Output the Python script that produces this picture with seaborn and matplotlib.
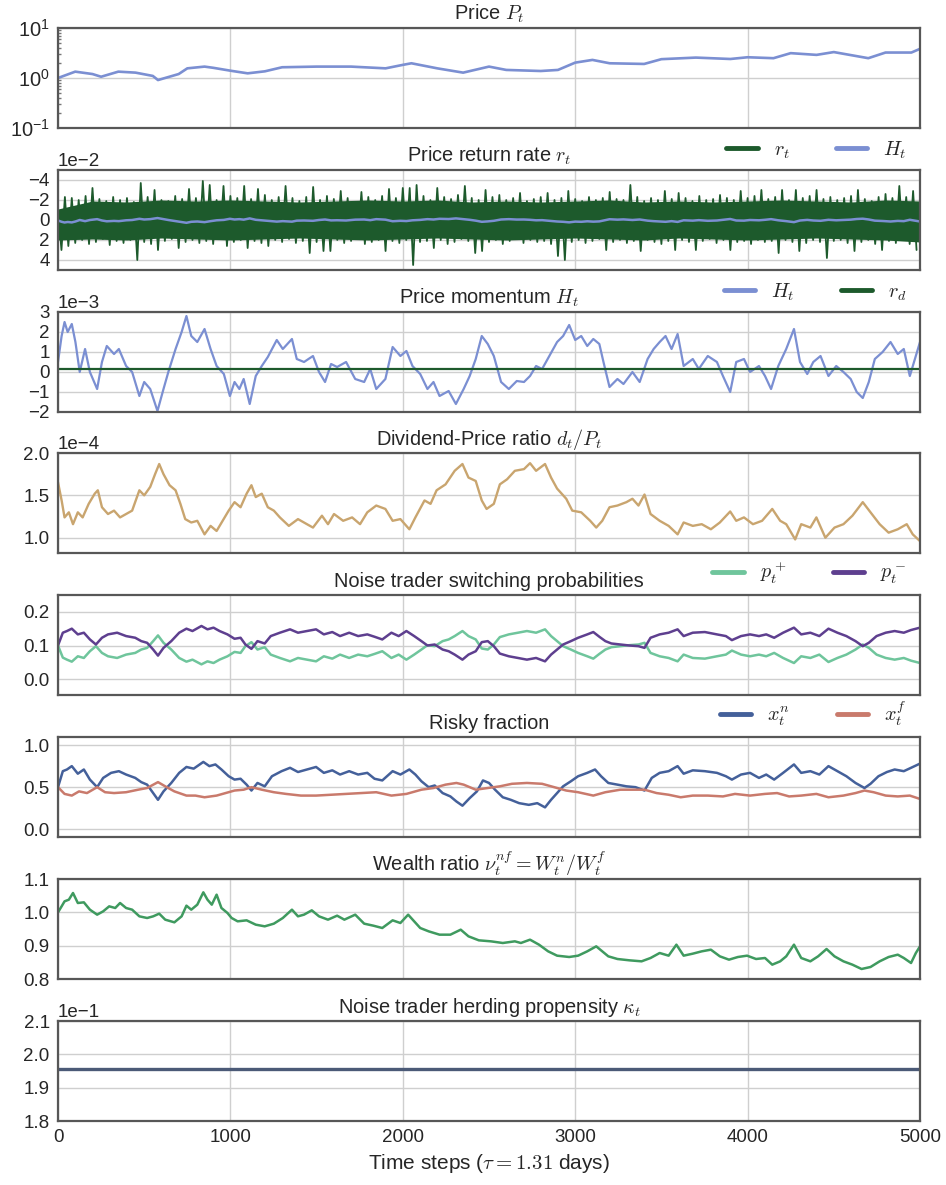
import numpy as np
import matplotlib
matplotlib.use("Agg")
import matplotlib.pyplot as plt
import seaborn as sns
from matplotlib.ticker import FixedLocator, LogLocator, NullFormatter, FormatStrFormatter

# ---------------- data ----------------
price_t = [0, 100, 200, 250, 350, 450, 550, 580, 700, 750, 850, 900, 1000, 1100, 1200, 1300, 1500,
           1700, 1900, 2000, 2050, 2200, 2350, 2500, 2600, 2800, 2900, 3000, 3100, 3200, 3400, 3500,
           3700, 3900, 4000, 4150, 4250, 4400, 4500, 4700, 4800, 4950, 5000]
price = [1.0, 1.34, 1.2, 1.06, 1.34, 1.28, 1.1, 0.91, 1.2, 1.56, 1.69, 1.6, 1.4, 1.24, 1.36, 1.64, 1.69,
         1.69, 1.56, 1.83, 1.97, 1.56, 1.28, 1.69, 1.45, 1.38, 1.45, 2.03, 2.3, 1.97, 1.91, 2.38,
         2.56, 2.4, 2.6, 2.49, 3.14, 2.9, 3.3, 2.49, 3.23, 3.23, 3.83]

# return rate (units of 1e-2): extremes of the noisy series ...
r_neg_t = list(range(0, 5000, 40))
r_neg = [-1.2, -2.3, -2.2, -2.0, -2.4, -3.2, -2.1, -1.9, -2.3, -2.0,
         -2.2, -1.8, -3.7, -2.3, -3.0, -2.0, -1.9, -2.4, -2.1, -3.1,
         -2.2, -3.9, -3.5, -2.0, -3.4, -2.4, -2.2, -3.4, -2.1, -3.1,
         -2.5, -2.0, -2.3, -3.4, -2.2, -1.9, -2.3, -3.3, -2.0, -2.4,
         -2.1, -2.9, -2.2, -1.8, -2.8, -2.3, -2.0, -2.4, -3.1, -2.2,
         -3.2, -3.2, -3.5, -2.4, -2.0, -3.2, -2.3, -2.1, -2.5, -3.4,
         -2.2, -2.0, -3.0, -2.3, -2.5, -2.0, -2.2, -2.7, -1.9, -2.1,
         -2.3, -2.7, -2.0, -2.2, -2.9, -2.1, -1.9, -2.3, -2.0, -2.2,
         -2.8, -2.1, -2.0, -3.5, -2.3, -1.9, -2.2, -2.0, -2.9, -2.1,
         -2.7, -2.2, -1.9, -2.4, -2.0, -2.1, -2.5, -2.2, -2.0, -2.9,
         -2.2, -2.4, -3.0, -2.1, -2.3, -3.0, -2.0, -3.0, -2.2, -2.4,
         -3.0, -2.1, -2.3, -2.0, -2.2, -2.4, -3.0, -2.1, -1.9, -2.3,
         -2.6, -2.2, -3.4, -2.3, -2.9]
r_pos_t = list(range(20, 5000, 40))
r_pos = [3.0, 2.6, 2.3, 2.0, 2.4, 2.2, 1.9, 2.5, 2.1, 2.3,
         2.0, 4.0, 2.2, 2.4, 3.0, 2.1, 1.9, 2.8, 2.2, 2.0,
         2.3, 2.1, 2.4, 1.9, 2.6, 2.2, 2.0, 2.8, 2.1, 2.3,
         2.6, 2.0, 2.2, 1.9, 2.3, 2.1, 3.3, 2.2, 3.1, 3.1,
         2.0, 2.3, 2.1, 1.9, 2.4, 2.2, 2.0, 3.1, 2.1, 2.3,
         2.0, 4.5, 2.2, 2.1, 2.8, 2.0, 2.4, 2.2, 1.9, 2.1,
         3.3, 3.1, 2.2, 2.0, 2.4, 2.1, 1.9, 2.3, 2.0, 2.2,
         2.1, 2.4, 3.6, 4.0, 2.2, 2.0, 2.3, 2.1, 1.9, 3.0,
         2.2, 2.0, 2.3, 2.1, 3.1, 2.0, 2.2, 2.4, 2.1, 3.0,
         2.0, 2.2, 3.0, 2.1, 1.9, 2.3, 2.0, 3.0, 2.2, 2.1,
         2.4, 2.0, 2.2, 2.1, 3.3, 2.0, 2.2, 3.1, 2.3, 2.0,
         2.2, 3.8, 2.1, 2.0, 2.3, 3.1, 2.2, 2.0, 2.4, 3.0,
         2.1, 2.3, 2.0, 2.4, 3.0]
# ... and the solid core of the band (units of 1e-2)
r_core_t = list(range(0, 5001, 200))
r_core_top = [-1.1, -1.9, -1.8, -2.0, -1.9, -2.0, -1.9, -1.8, -1.9, -2.0, -1.9, -2.0, -1.8,
              -1.9, -1.8, -1.9, -2.0, -1.8, -1.9, -1.8, -1.9, -2.0, -1.9, -1.8, -2.0, -1.9]
r_core_bot = [2.0, 1.9, 2.0, 1.8, 1.9, 2.0, 1.9, 1.8, 1.9, 2.0, 1.9, 1.8, 1.9,
              2.0, 1.9, 1.8, 1.9, 2.0, 1.8, 1.9, 2.0, 1.9, 1.8, 1.9, 2.0, 2.2]

# momentum H_t (units of 1e-3)
H_t = [0, 21, 38, 56, 80, 101, 126, 157, 185, 227, 255, 283, 325, 353, 395, 430, 472, 500, 535, 577,
       612, 640, 682, 717, 745, 773, 808, 850, 885, 920, 962, 997, 1024, 1052, 1077, 1112, 1147, 1182,
       1217, 1269, 1304, 1357, 1385, 1427, 1479, 1514, 1549, 1584, 1619, 1671, 1724, 1776, 1811, 1846,
       1899, 1941, 1986, 2021, 2056, 2101, 2143, 2178, 2213, 2266, 2308, 2353, 2388, 2423, 2458, 2493,
       2528, 2570, 2615, 2661, 2703, 2738, 2773, 2808, 2850, 2895, 2930, 2965, 3000, 3035, 3070, 3105,
       3140, 3164, 3199, 3245, 3280, 3332, 3374, 3420, 3455, 3490, 3524, 3559, 3594, 3629, 3682, 3717,
       3769, 3822, 3857, 3899, 3934, 3979, 4014, 4066, 4101, 4136, 4178, 4224, 4269, 4304, 4346, 4381,
       4423, 4469, 4514, 4556, 4598, 4633, 4668, 4703, 4738, 4783, 4829, 4871, 4906, 4941, 4976, 5000]
H_val = [0.5, 1.8, 2.5, 2.0, 2.4, 1.5, 0.0, 1.15, 0.0, -0.85, 0.5, 1.3, 0.9, 1.15, 0.3, 0.0, -1.2, -0.5,
         -0.85, -1.95, -0.85, 0.0, 1.15, 2.0, 2.8, 1.8, 1.5, 2.15, 1.15, 0.3, -0.1, -1.2, -0.5, -0.85,
         -0.35, -1.6, -0.2, 0.3, 0.75, 1.6, 1.15, 1.65, 0.65, 0.5, 0.8, 0.0, -0.5, 0.4, 0.25, 0.5, -0.35,
         -0.5, 0.15, -0.85, -0.35, 1.25, 0.8, 1.05, 0.3, -0.1, -0.85, -0.5, -1.2, -0.95, -1.6, -0.85,
         -0.2, 0.65, 1.8, 1.4, 0.8, -0.5, -0.85, -0.45, -0.5, -0.2, 0.3, 0.15, 0.8, 1.5, 1.8, 2.35, 1.6,
         1.8, 1.3, 1.65, 1.4, 0.5, -0.75, -0.35, -0.6, 0.0, -0.5, 0.65, 1.15, 1.5, 1.8, 1.15, 1.9, 0.3,
         0.65, 0.15, 0.8, 0.5, -0.2, -1.0, 0.5, 0.65, 0.0, 0.3, -0.2, -0.85, 0.3, 1.15, 2.15, 0.5, -0.1,
         0.5, 0.8, -0.2, 0.3, 0.0, -0.35, -1.0, -1.3, -0.5, 0.65, 1.0, 1.5, 0.9, 1.15, -0.2, 0.8, 1.5]
r_d = [0.15, 0.15]
r_d_t = [0, 5000]

# dividend-price ratio (units of 1e-4)
dp_t = [0, 21, 38, 63, 87, 115, 143, 178, 213, 231, 255, 290, 325, 360, 395, 430, 472, 500, 535, 563,
        587, 612, 647, 682, 710, 738, 773, 808, 850, 885, 920, 955, 990, 1024, 1059, 1094, 1122, 1147,
        1182, 1217, 1252, 1287, 1339, 1392, 1444, 1479, 1531, 1566, 1601, 1654, 1706, 1752, 1794, 1846,
        1899, 1941, 1986, 2038, 2073, 2126, 2161, 2196, 2248, 2301, 2346, 2381, 2423, 2458, 2486, 2528,
        2563, 2605, 2650, 2703, 2738, 2773, 2825, 2860, 2895, 2948, 2983, 3035, 3087, 3122, 3157, 3199,
        3245, 3297, 3332, 3367, 3402, 3437, 3490, 3542, 3594, 3629, 3682, 3734, 3787, 3839, 3899, 3934,
        3979, 4031, 4084, 4143, 4189, 4224, 4276, 4311, 4364, 4399, 4451, 4504, 4556, 4608, 4668, 4713,
        4766, 4818, 4871, 4923, 4958, 5000]
dp = [1.655, 1.44, 1.24, 1.30, 1.16, 1.30, 1.24, 1.40, 1.52, 1.56, 1.36, 1.28, 1.32, 1.24, 1.28, 1.32,
      1.56, 1.50, 1.60, 1.75, 1.87, 1.75, 1.62, 1.56, 1.40, 1.22, 1.18, 1.20, 1.04, 1.14, 1.08, 1.20,
      1.32, 1.42, 1.36, 1.52, 1.62, 1.48, 1.52, 1.36, 1.32, 1.24, 1.14, 1.22, 1.16, 1.12, 1.26, 1.16,
      1.28, 1.20, 1.24, 1.16, 1.30, 1.38, 1.34, 1.20, 1.22, 1.10, 1.24, 1.44, 1.40, 1.56, 1.63, 1.79,
      1.87, 1.71, 1.67, 1.44, 1.34, 1.40, 1.63, 1.69, 1.79, 1.81, 1.88, 1.79, 1.87, 1.71, 1.58, 1.46,
      1.32, 1.30, 1.20, 1.12, 1.20, 1.36, 1.38, 1.42, 1.46, 1.38, 1.51, 1.28, 1.20, 1.14, 1.04, 1.18,
      1.14, 1.16, 1.10, 1.18, 1.31, 1.20, 1.24, 1.16, 1.20, 1.34, 1.20, 1.16, 0.98, 1.16, 1.12, 1.24,
      1.00, 1.12, 1.16, 1.26, 1.42, 1.30, 1.16, 1.06, 1.10, 1.16, 1.04, 0.96]

# noise trader switching probabilities
p_t = [0, 28, 52, 80, 115, 150, 185, 220, 255, 290, 343, 395, 448, 483, 517, 552, 580, 612, 657, 703,
       745, 780, 832, 867, 902, 937, 983, 1024, 1059, 1087, 1122, 1157, 1199, 1234, 1287, 1346, 1392,
       1444, 1497, 1542, 1591, 1636, 1689, 1741, 1794, 1836, 1881, 1934, 1976, 2021, 2066, 2108, 2143,
       2185, 2231, 2266, 2301, 2346, 2381, 2423, 2458, 2493, 2528, 2563, 2615, 2668, 2720, 2773, 2825,
       2860, 2895, 2930, 2975, 3017, 3070, 3105, 3140, 3175, 3210, 3262, 3315, 3367, 3402, 3437, 3490,
       3542, 3594, 3629, 3682, 3752, 3822, 3874, 3909, 3962, 4014, 4066, 4108, 4154, 4206, 4269, 4311,
       4364, 4416, 4469, 4521, 4573, 4626, 4668, 4703, 4748, 4801, 4853, 4906, 4948, 5000]
p_minus = [0.100, 0.138, 0.143, 0.150, 0.133, 0.138, 0.118, 0.103, 0.123, 0.133, 0.138, 0.128, 0.123,
           0.113, 0.108, 0.088, 0.070, 0.093, 0.113, 0.138, 0.150, 0.143, 0.158, 0.148, 0.153, 0.143,
           0.133, 0.120, 0.123, 0.103, 0.090, 0.113, 0.106, 0.128, 0.138, 0.148, 0.138, 0.143, 0.148,
           0.133, 0.140, 0.128, 0.138, 0.128, 0.133, 0.126, 0.118, 0.138, 0.128, 0.143, 0.128, 0.113,
           0.100, 0.103, 0.088, 0.083, 0.073, 0.058, 0.073, 0.083, 0.110, 0.113, 0.098, 0.076, 0.068,
           0.063, 0.058, 0.063, 0.053, 0.073, 0.088, 0.103, 0.113, 0.123, 0.133, 0.140, 0.126, 0.113,
           0.106, 0.103, 0.100, 0.098, 0.093, 0.123, 0.133, 0.138, 0.148, 0.128, 0.138, 0.140, 0.133,
           0.128, 0.116, 0.128, 0.133, 0.128, 0.133, 0.123, 0.138, 0.153, 0.133, 0.138, 0.128, 0.150,
           0.138, 0.128, 0.113, 0.098, 0.108, 0.128, 0.138, 0.143, 0.138, 0.146, 0.153]
p_plus = [0.100, 0.064, 0.058, 0.052, 0.068, 0.063, 0.083, 0.098, 0.078, 0.068, 0.063, 0.073, 0.078,
          0.088, 0.093, 0.113, 0.130, 0.108, 0.088, 0.063, 0.052, 0.058, 0.044, 0.053, 0.048, 0.058,
          0.068, 0.081, 0.078, 0.098, 0.110, 0.088, 0.095, 0.073, 0.063, 0.053, 0.063, 0.058, 0.053,
          0.068, 0.061, 0.073, 0.063, 0.073, 0.068, 0.075, 0.083, 0.063, 0.073, 0.058, 0.073, 0.088,
          0.101, 0.098, 0.113, 0.118, 0.128, 0.143, 0.128, 0.118, 0.091, 0.088, 0.103, 0.125, 0.133,
          0.138, 0.143, 0.138, 0.148, 0.128, 0.113, 0.098, 0.088, 0.078, 0.068, 0.061, 0.075, 0.088,
          0.095, 0.098, 0.101, 0.103, 0.108, 0.078, 0.068, 0.063, 0.053, 0.073, 0.063, 0.061, 0.068,
          0.073, 0.085, 0.073, 0.068, 0.073, 0.068, 0.078, 0.063, 0.048, 0.068, 0.063, 0.073, 0.051,
          0.063, 0.073, 0.088, 0.103, 0.093, 0.073, 0.063, 0.058, 0.063, 0.055, 0.048]

# risky fractions
xn_t = [0, 28, 52, 80, 115, 150, 185, 227, 262, 308, 353, 395, 448, 483, 517, 552, 580, 612, 657, 703,
        745, 787, 843, 878, 913, 948, 990, 1024, 1059, 1094, 1122, 1157, 1199, 1241, 1297, 1346, 1392,
        1444, 1497, 1542, 1591, 1636, 1689, 1741, 1794, 1836, 1881, 1941, 1986, 2038, 2073, 2108, 2150,
        2185, 2231, 2276, 2311, 2346, 2388, 2430, 2465, 2500, 2535, 2580, 2626, 2675, 2731, 2780, 2825,
        2860, 2895, 2930, 2975, 3017, 3070, 3115, 3150, 3192, 3245, 3297, 3350, 3402, 3444, 3490, 3542,
        3594, 3629, 3682, 3752, 3822, 3874, 3909, 3962, 4014, 4066, 4108, 4154, 4206, 4269, 4311, 4364,
        4416, 4469, 4521, 4573, 4626, 4678, 4713, 4759, 4808, 4853, 4906, 4948, 5000]
xn = [0.50, 0.69, 0.71, 0.75, 0.66, 0.71, 0.59, 0.50, 0.61, 0.67, 0.69, 0.65, 0.61, 0.56, 0.53, 0.43,
      0.35, 0.45, 0.55, 0.67, 0.74, 0.72, 0.80, 0.75, 0.77, 0.71, 0.63, 0.59, 0.60, 0.53, 0.46, 0.55,
      0.51, 0.63, 0.69, 0.73, 0.68, 0.71, 0.74, 0.67, 0.70, 0.65, 0.69, 0.65, 0.67, 0.60, 0.58, 0.69,
      0.65, 0.71, 0.65, 0.57, 0.50, 0.52, 0.43, 0.39, 0.33, 0.28, 0.37, 0.45, 0.58, 0.55, 0.47, 0.38,
      0.35, 0.31, 0.29, 0.31, 0.26, 0.35, 0.43, 0.51, 0.57, 0.63, 0.67, 0.71, 0.63, 0.55, 0.53, 0.51,
      0.50, 0.46, 0.61, 0.67, 0.69, 0.75, 0.66, 0.70, 0.69, 0.67, 0.63, 0.59, 0.65, 0.67, 0.61, 0.65,
      0.59, 0.67, 0.77, 0.67, 0.69, 0.65, 0.75, 0.69, 0.63, 0.55, 0.49, 0.54, 0.63, 0.68, 0.71, 0.69,
      0.73, 0.78]
xf_t = [0, 38, 80, 122, 168, 227, 273, 325, 395, 465, 517, 580, 622, 675, 745, 797, 850, 920, 972, 1024,
        1077, 1122, 1182, 1252, 1322, 1409, 1497, 1584, 1671, 1759, 1846, 1934, 2021, 2108, 2178, 2248,
        2311, 2353, 2423, 2493, 2563, 2633, 2720, 2808, 2878, 2948, 3017, 3105, 3175, 3262, 3350, 3402,
        3472, 3542, 3612, 3682, 3769, 3857, 3927, 4014, 4101, 4171, 4241, 4311, 4399, 4469, 4556, 4626,
        4678, 4731, 4801, 4871, 4941, 5000]
xf = [0.50, 0.42, 0.40, 0.45, 0.43, 0.50, 0.44, 0.43, 0.44, 0.47, 0.49, 0.56, 0.51, 0.45, 0.40, 0.40,
      0.38, 0.40, 0.43, 0.46, 0.47, 0.50, 0.47, 0.44, 0.42, 0.40, 0.40, 0.41, 0.42, 0.43, 0.44, 0.40,
      0.42, 0.47, 0.49, 0.53, 0.55, 0.53, 0.47, 0.49, 0.51, 0.54, 0.55, 0.54, 0.50, 0.46, 0.44, 0.40,
      0.44, 0.47, 0.47, 0.47, 0.43, 0.41, 0.38, 0.40, 0.40, 0.39, 0.42, 0.40, 0.42, 0.43, 0.39, 0.40,
      0.42, 0.38, 0.40, 0.43, 0.46, 0.44, 0.40, 0.39, 0.40, 0.36]

# wealth ratio
w_t = [0, 21, 38, 63, 87, 115, 150, 185, 227, 262, 297, 332, 360, 395, 430, 472, 517, 552, 587, 622,
       675, 717, 745, 773, 808, 843, 867, 892, 920, 948, 983, 1007, 1042, 1094, 1147, 1199, 1252, 1304,
       1357, 1392, 1427, 1472, 1514, 1566, 1619, 1661, 1724, 1776, 1829, 1881, 1941, 1986, 2031, 2066,
       2101, 2150, 2213, 2276, 2336, 2381, 2441, 2511, 2580, 2650, 2685, 2738, 2790, 2843, 2895, 2965,
       3017, 3070, 3122, 3157, 3192, 3245, 3315, 3385, 3437, 3490, 3542, 3587, 3629, 3682, 3734, 3787,
       3839, 3892, 3944, 3997, 4049, 4101, 4143, 4189, 4224, 4269, 4311, 4364, 4409, 4458, 4504, 4556,
       4608, 4661, 4713, 4766, 4818, 4871, 4906, 4948, 4976, 5000]
wealth = [1.000, 1.018, 1.033, 1.038, 1.058, 1.028, 1.030, 1.008, 0.993, 1.003, 1.018, 1.013, 1.028,
          1.013, 1.008, 0.988, 0.983, 0.988, 0.996, 0.978, 0.970, 0.988, 1.020, 1.008, 1.023, 1.060,
          1.038, 1.023, 1.053, 1.013, 0.998, 0.983, 0.973, 0.976, 0.963, 0.958, 0.966, 0.983, 1.008,
          0.988, 0.993, 1.006, 0.988, 0.978, 0.990, 0.978, 0.993, 0.966, 0.960, 0.953, 0.976, 0.968,
          0.993, 0.973, 0.953, 0.943, 0.933, 0.933, 0.948, 0.928, 0.916, 0.913, 0.908, 0.913, 0.908,
          0.918, 0.903, 0.883, 0.870, 0.866, 0.870, 0.883, 0.898, 0.883, 0.868, 0.860, 0.856, 0.853,
          0.863, 0.878, 0.870, 0.903, 0.870, 0.876, 0.883, 0.888, 0.868, 0.858, 0.866, 0.870, 0.860,
          0.863, 0.843, 0.853, 0.868, 0.903, 0.863, 0.853, 0.868, 0.890, 0.868, 0.853, 0.843, 0.830,
          0.836, 0.853, 0.866, 0.873, 0.863, 0.848, 0.878, 0.898]

# herding propensity
kappa_t = [0, 5000]
kappa = [0.1955, 0.1955]

x_ticks = [0, 1000, 2000, 3000, 4000, 5000]

# ---------------- style ----------------
sns.set_theme(style="whitegrid")
plt.rcParams.update({
    "font.family": ["Liberation Sans", "DejaVu Sans"],
    "mathtext.fontset": "cm",
    "axes.edgecolor": "#575757",
    "axes.linewidth": 1.6,
    "grid.color": "#cfcfcf",
    "grid.linewidth": 1.0,
    "xtick.labelsize": 13.5,
    "ytick.labelsize": 13.5,
    "axes.titlesize": 14.4,
    "text.color": "#262626",
    "xtick.color": "#262626",
    "ytick.color": "#262626",
})

C_BLUE = "#7b8fd2"
C_DGREEN = "#1d5a2c"
C_TAN = "#c9a56f"
C_MINT = "#6fc59c"
C_PURPLE = "#5e3f8f"
C_NAVY = "#44609a"
C_SALMON = "#c97a6c"
C_GREEN = "#3f9a5f"
C_SLATE = "#4b5a77"

W, H = 946, 1185
fig = plt.figure(figsize=(W / 100, H / 100), dpi=100)
tops = [28, 170, 312, 453, 595, 737, 879, 1021]
axes = []
for tp in tops:
    ax = fig.add_axes([58 / W, 1 - (tp + 100) / H, 862 / W, 100 / H])
    ax.set_xlim(0, 5000)
    ax.xaxis.set_major_locator(FixedLocator(x_ticks))
    ax.tick_params(axis="both", length=0, pad=6)
    axes.append(ax)
for ax in axes[:-1]:
    ax.set_xticklabels([])

def leg(ax):
    lg = ax.legend(loc="lower right", bbox_to_anchor=(0.995, 1.0), ncol=2, frameon=False,
                   fontsize=14.5, handlelength=1.55, columnspacing=2.3, borderaxespad=0.05,
                   handletextpad=0.8)
    for h in lg.legend_handles:
        h.set_linewidth(3.5)

def sci(ax):
    ax.ticklabel_format(axis="y", style="sci", scilimits=(0, 0))
    ax.yaxis.get_offset_text().set_fontsize(13.5)

# 1 price
ax = axes[0]
ax.set_yscale("log")
sns.lineplot(x=price_t, y=price, ax=ax, color=C_BLUE, linewidth=1.9)
ax.set_ylim(0.1, 10)
ax.yaxis.set_minor_locator(LogLocator(base=10, subs=np.arange(2, 10)))
ax.yaxis.set_minor_formatter(NullFormatter())
ax.tick_params(axis="y", which="minor", direction="in", length=2.5, color="#777777", left=True)
ax.tick_params(axis="y", which="major", labelsize=14.5)
ax.set_title(r"Price $P_t$")

# 2 return rate
ax = axes[1]
r_t = []
r_x = []
for a, b, c, d in zip(r_neg_t, r_neg, r_pos_t, r_pos):
    r_x += [a, c]
    r_t += [b * 1e-2, d * 1e-2]
ax.fill_between(r_core_t, np.array(r_core_top) * 1e-2, np.array(r_core_bot) * 1e-2,
                color=C_DGREEN, linewidth=0)
sns.lineplot(x=r_x, y=r_t, ax=ax, color=C_DGREEN, linewidth=1.3, label=r"$r_t$")
sns.lineplot(x=H_t, y=np.array(H_val) * 1e-3, ax=ax, color=C_BLUE, linewidth=1.8, label=r"$H_t$")
ax.set_ylim(0.05, -0.05)
ax.yaxis.set_major_locator(FixedLocator([-0.04, -0.02, 0.0, 0.02, 0.04]))
sci(ax)
leg(ax)
ax.set_title(r"Price return rate $r_t$")

# 3 momentum
ax = axes[2]
sns.lineplot(x=H_t, y=np.array(H_val) * 1e-3, ax=ax, color=C_BLUE, linewidth=1.6, label=r"$H_t$")
sns.lineplot(x=r_d_t, y=np.array(r_d) * 1e-3, ax=ax, color=C_DGREEN, linewidth=1.6, label=r"$r_d$")
ax.set_ylim(-0.002, 0.003)
ax.yaxis.set_major_locator(FixedLocator([-0.002, -0.001, 0, 0.001, 0.002, 0.003]))
sci(ax)
leg(ax)
ax.set_title(r"Price momentum $H_t$")

# 4 dividend-price
ax = axes[3]
sns.lineplot(x=dp_t, y=np.array(dp) * 1e-4, ax=ax, color=C_TAN, linewidth=1.7)
ax.set_ylim(0.82e-4, 2.0e-4)
ax.yaxis.set_major_locator(FixedLocator([1.0e-4, 1.5e-4, 2.0e-4]))
sci(ax)
ax.set_title(r"Dividend-Price ratio $d_t/P_t$")

# 5 switching probs
ax = axes[4]
sns.lineplot(x=p_t, y=p_plus, ax=ax, color=C_MINT, linewidth=1.8, label=r"$p_t^+$")
sns.lineplot(x=p_t, y=p_minus, ax=ax, color=C_PURPLE, linewidth=1.8, label=r"$p_t^-$")
ax.set_ylim(-0.047, 0.25)
ax.yaxis.set_major_locator(FixedLocator([0.0, 0.1, 0.2]))
ax.yaxis.set_major_formatter(FormatStrFormatter("%.1f"))
leg(ax)
ax.set_title("Noise trader switching probabilities")

# 6 risky fraction
ax = axes[5]
sns.lineplot(x=xn_t, y=xn, ax=ax, color=C_NAVY, linewidth=1.8, label=r"$x_t^n$")
sns.lineplot(x=xf_t, y=xf, ax=ax, color=C_SALMON, linewidth=1.8, label=r"$x_t^f$")
ax.set_ylim(-0.092, 1.096)
ax.yaxis.set_major_locator(FixedLocator([0.0, 0.5, 1.0]))
ax.yaxis.set_major_formatter(FormatStrFormatter("%.1f"))
leg(ax)
ax.set_title("Risky fraction")

# 7 wealth ratio
ax = axes[6]
sns.lineplot(x=w_t, y=wealth, ax=ax, color=C_GREEN, linewidth=1.8)
ax.set_ylim(0.8, 1.1)
ax.yaxis.set_major_locator(FixedLocator([0.8, 0.9, 1.0, 1.1]))
ax.yaxis.set_major_formatter(FormatStrFormatter("%.1f"))
ax.set_title(r"Wealth ratio $\nu_t^{nf} = W_t^n/W_t^f$")

# 8 herding
ax = axes[7]
sns.lineplot(x=kappa_t, y=kappa, ax=ax, color=C_SLATE, linewidth=2.4)
ax.set_ylim(0.18, 0.21)
ax.yaxis.set_major_locator(FixedLocator([0.18, 0.19, 0.20, 0.21]))
sci(ax)
ax.set_title(r"Noise trader herding propensity $\kappa_t$")
ax.set_xlabel(r"Time steps ($\tau = 1.31$ days)", fontsize=15)

for ax in axes:
    ax.set_ylabel("")
    ax.grid(True, which="major")

fig.savefig("out.png", dpi=100)
